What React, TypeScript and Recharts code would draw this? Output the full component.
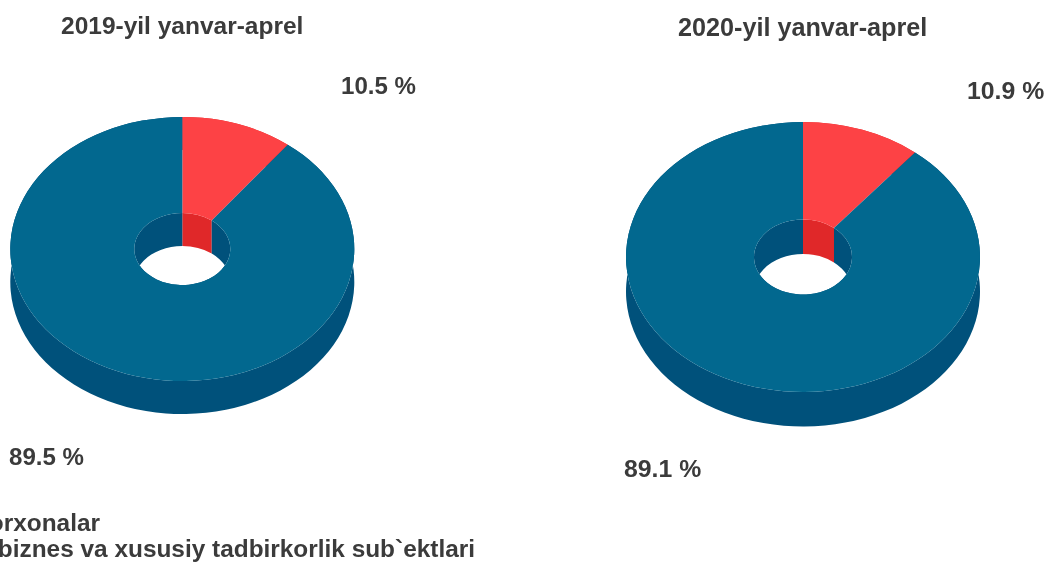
import { PieChart, Pie } from "recharts";

const groups = ["Yirik korxonalar", "Kichik biznes va xususiy tadbirkorlik sub`ektlari"];
const titles = ["2019-yil yanvar-aprel", "2020-yil yanvar-aprel"];
const values2019 = [10.5, 89.5];
const values2020 = [10.9, 89.1];

const TOP_COLORS = ["#fd4245", "#02688f"];
const WALL_COLORS = ["#e02829", "#00517b"];
const FONT = "'Liberation Sans', Arial, sans-serif";
const TEXT_COLOR = "#3b3b3b";

const toRows = (values: number[]) => values.map((value, i) => ({ name: groups[i], value }));

// point on an ellipse, angle in degrees counter-clockwise from 3 o'clock
function pt(cx: number, cy: number, rx: number, ry: number, deg: number) {
  const a = (deg * Math.PI) / 180;
  return `${cx + rx * Math.cos(a)} ${cy - ry * Math.sin(a)}`;
}

// arc going from a1 to a2; sweep says which way round on screen
function arc(cx: number, cy: number, rx: number, ry: number, a1: number, a2: number) {
  const large = Math.abs(a2 - a1) > 180 ? 1 : 0;
  const sweep = a2 < a1 ? 1 : 0;
  return `A ${rx} ${ry} 0 ${large} ${sweep} ${pt(cx, cy, rx, ry, a2)}`;
}

function band(cx: number, cy: number, rx: number, ry: number, depth: number, a1: number, a2: number) {
  return [
    `M ${pt(cx, cy, rx, ry, a1)}`,
    arc(cx, cy, rx, ry, a1, a2),
    `L ${pt(cx, cy + depth, rx, ry, a2)}`,
    arc(cx, cy + depth, rx, ry, a2, a1),
    "Z",
  ].join(" ");
}

function WallShape(props: any, squash: number, holeSquash: number, depth: number) {
  const { cx, cy, innerRadius, outerRadius, startAngle, endAngle, index } = props;
  const fill = WALL_COLORS[index];
  return (
    <g>
      <path d={band(cx, cy, outerRadius, outerRadius * squash, depth, startAngle, endAngle)} fill={fill} />
      <path d={band(cx, cy, innerRadius, innerRadius * holeSquash, depth, startAngle, endAngle)} fill={fill} />
    </g>
  );
}

function TopShape(props: any, squash: number, holeSquash: number) {
  const { cx, cy, innerRadius, outerRadius, startAngle, endAngle, index } = props;
  const ry = outerRadius * squash;
  const iry = innerRadius * holeSquash;
  const d = [
    `M ${pt(cx, cy, outerRadius, ry, startAngle)}`,
    arc(cx, cy, outerRadius, ry, startAngle, endAngle),
    `L ${pt(cx, cy, innerRadius, iry, endAngle)}`,
    arc(cx, cy, innerRadius, iry, endAngle, startAngle),
    "Z",
  ].join(" ");
  return <path d={d} fill={TOP_COLORS[index]} />;
}

function percentLabel(spots: number[][], fontSize: number) {
  return (props: any) => (
    <text
      key={props.index}
      x={spots[props.index][0]}
      y={spots[props.index][1]}
      fontFamily={FONT}
      fontSize={fontSize}
      fontWeight={700}
      fill={TEXT_COLOR}
    >
      {`${props.value} %`}
    </text>
  );
}

export default function App() {
  return (
    <div style={{ position: "absolute", left: 0, top: 0, width: 1048, height: 562, overflow: "hidden", filter: "blur(0.35px)" }}>
      <PieChart width={1048} height={562} margin={{ top: 0, right: 0, bottom: 0, left: 0 }}>
        {/* 2019: walls first, then the top face */}
        <Pie
          data={toRows(values2019)}
          dataKey="value"
          cx={182.3}
          cy={249}
          innerRadius={48}
          outerRadius={172}
          startAngle={90}
          endAngle={-270}
          isAnimationActive={false}
          shape={(p: any) => WallShape(p, 132 / 172, 36 / 48, 33)}
        />
        <Pie
          data={toRows(values2019)}
          dataKey="value"
          cx={182.3}
          cy={249}
          innerRadius={48}
          outerRadius={172}
          startAngle={90}
          endAngle={-270}
          isAnimationActive={false}
          shape={(p: any) => TopShape(p, 132 / 172, 36 / 48)}
          label={percentLabel([[341, 94], [9, 465]], 24.1)}
          labelLine={false}
        />
        {/* 2020 */}
        <Pie
          data={toRows(values2020)}
          dataKey="value"
          cx={803}
          cy={257}
          innerRadius={49}
          outerRadius={177}
          startAngle={90}
          endAngle={-270}
          isAnimationActive={false}
          shape={(p: any) => WallShape(p, 135 / 177, 37.5 / 49, 34.5)}
        />
        <Pie
          data={toRows(values2020)}
          dataKey="value"
          cx={803}
          cy={257}
          innerRadius={49}
          outerRadius={177}
          startAngle={90}
          endAngle={-270}
          isAnimationActive={false}
          shape={(p: any) => TopShape(p, 135 / 177, 37.5 / 49)}
          label={percentLabel([[967, 99], [624, 477]], 24.8)}
          labelLine={false}
        />
        <text x={61} y={34} fontFamily={FONT} fontSize={24.5} fontWeight={700} fill={TEXT_COLOR}>{titles[0]}</text>
        <text x={678} y={36} fontFamily={FONT} fontSize={25.2} fontWeight={700} fill={TEXT_COLOR}>{titles[1]}</text>
        <text x={100} y={531} textAnchor="end" fontFamily={FONT} fontSize={24.4} fontWeight={700} fill={TEXT_COLOR}>{groups[0]}</text>
        <text x={475} y={557} textAnchor="end" fontFamily={FONT} fontSize={24.4} fontWeight={700} fill={TEXT_COLOR}>{groups[1]}</text>
      </PieChart>
    </div>
  );
}
